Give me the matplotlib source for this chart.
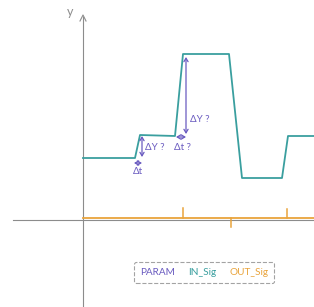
import matplotlib.pyplot as plt

# IN_Sig step profile (time, level)
in_t = [0, 52, 57, 92, 100, 146, 159, 199, 205, 231]
in_v = [62, 62, 85, 84, 166, 166, 42, 42, 84, 84]

# OUT_Sig baseline and spikes
out_t = [0, 231]
out_v = [2, 2]
spike_t = [100, 148, 204]
spike_v = [12, -7, 11]

legend_labels = ["PARAM", "IN_Sig", "OUT_Sig"]

TEAL = "#3a9f9f"
ORANGE = "#e9a43c"
PURPLE = "#6a5bc0"
GRAY = "#8c8c8c"

plt.rcParams["font.family"] = ["Lato", "DejaVu Sans"]

fig = plt.figure(figsize=(3.14, 3.07), dpi=100)
ax = fig.add_axes([0, 0, 1, 1])
ax.set_xlim(-83, 231)
ax.set_ylim(-87, 220)
ax.axis("off")

# ---- axes lines ----
ax.plot([-70, 231], [0, 0], color=GRAY, lw=0.8, zorder=1)
ax.plot([0, 0], [-87, 203], color=GRAY, lw=0.8, zorder=1)
ax.plot([-3, 0, 3], [199, 205, 199], color=GRAY, lw=0.8, zorder=1)
ax.text(-13, 208, "y", color=GRAY, fontsize=9, ha="center", va="center")

# ---- signals ----
ax.plot(in_t, in_v, color=TEAL, lw=1.3, label="IN_Sig", zorder=3)
ax.plot(out_t, out_v, color=ORANGE, lw=1.3, label="OUT_Sig", zorder=3)
for t, v in zip(spike_t, spike_v):
    ax.plot([t, t], [out_v[0], v], color=ORANGE, lw=1.1, zorder=3)

# ---- PARAM annotations ----
arr = dict(arrowstyle="<->,head_length=0.25,head_width=0.15",
           color=PURPLE, lw=0.9, shrinkA=0, shrinkB=0)
ax.annotate("", xy=(59, 84), xytext=(59, 63), arrowprops=arr)
ax.annotate("", xy=(51, 57), xytext=(59, 57), arrowprops=arr)
ax.annotate("", xy=(103, 163), xytext=(103, 86), arrowprops=arr)
ax.annotate("", xy=(93, 83), xytext=(103, 83), arrowprops=arr)

fs = 7
ax.text(62, 73, "ΔY ?", color=PURPLE, fontsize=fs, ha="left", va="center")
ax.text(55, 48, "Δt", color=PURPLE, fontsize=fs, ha="center", va="center")
ax.text(107, 101, "ΔY ?", color=PURPLE, fontsize=fs, ha="left", va="center")
ax.text(99, 73, "Δt ?", color=PURPLE, fontsize=fs, ha="center", va="center")

# ---- legend ----
handles = [plt.Line2D([], [], color="none") for _ in legend_labels]
leg = ax.legend(handles, legend_labels, ncol=3, loc="center",
                bbox_to_anchor=(0.651, 0.114), handlelength=0,
                handletextpad=0, columnspacing=1.3, fontsize=7.2,
                frameon=True, fancybox=True, borderpad=0.6)
for txt, c in zip(leg.get_texts(), [PURPLE, TEAL, ORANGE]):
    txt.set_color(c)
frame = leg.get_frame()
frame.set_linestyle("--")
frame.set_edgecolor(GRAY)
frame.set_linewidth(0.8)

fig.savefig("out.png", dpi=100)
